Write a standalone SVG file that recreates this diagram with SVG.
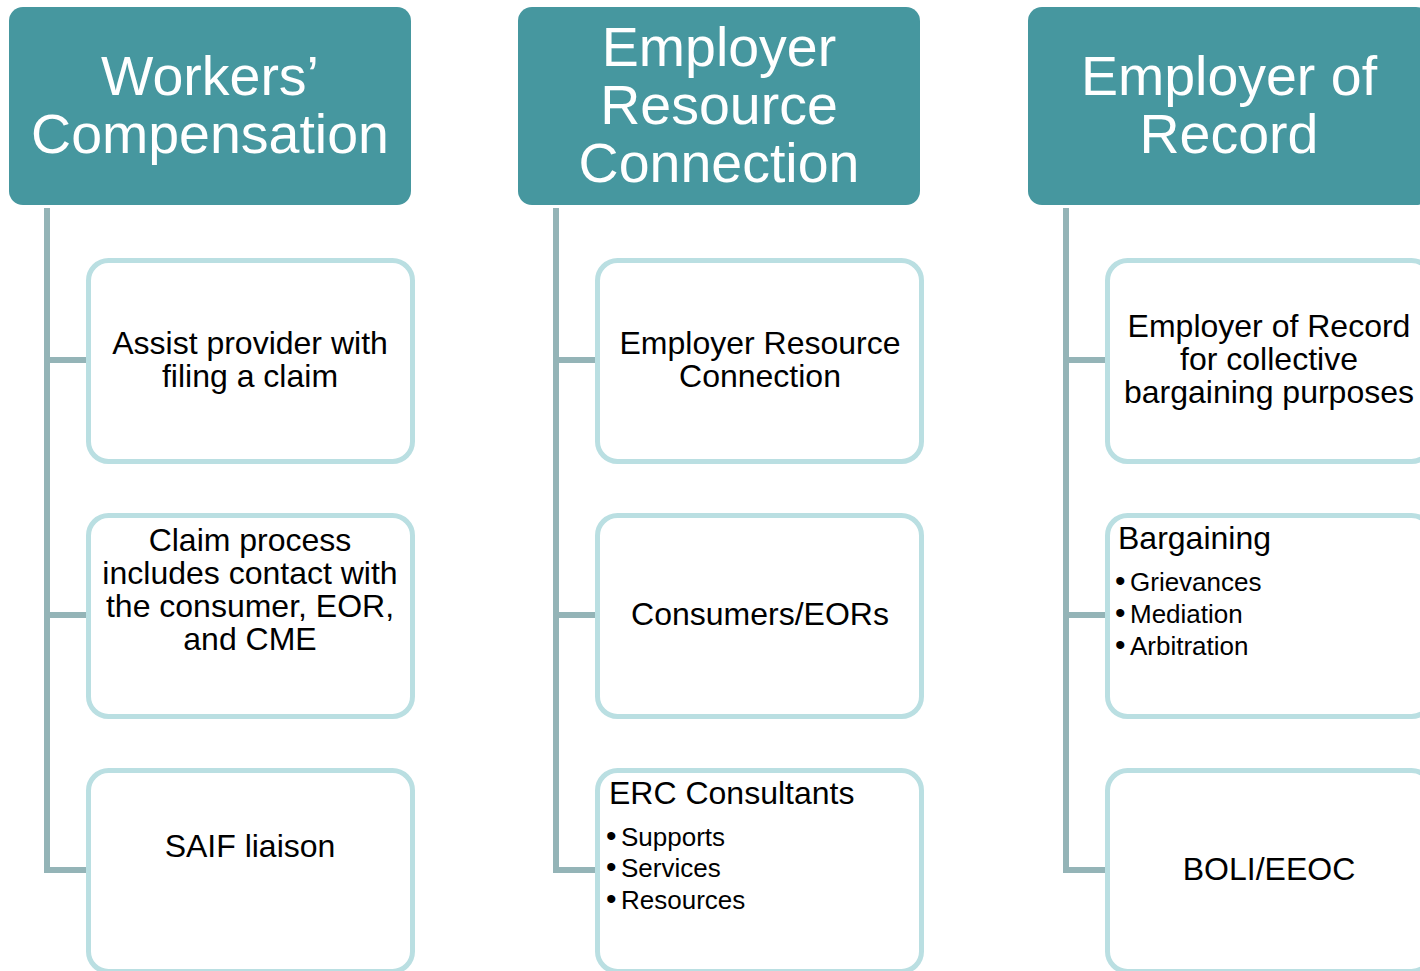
<svg xmlns="http://www.w3.org/2000/svg" width="1420" height="971" viewBox="0 0 1420 971">
<style>
.hdr{fill:#46979F;}
.hdrt{fill:#FFFFFF;font-family:"Liberation Sans",Arial,sans-serif;font-size:55.5px;text-anchor:middle;}
.box{fill:#FFFFFF;stroke:#BADFE2;stroke-width:5;}
.t{fill:#000;font-family:"Liberation Sans",Arial,sans-serif;font-size:32px;text-anchor:middle;}
.tl{fill:#000;font-family:"Liberation Sans",Arial,sans-serif;font-size:32px;}
.b{fill:#000;font-family:"Liberation Sans",Arial,sans-serif;font-size:26px;}
.d{font-size:30px;}
.conn{fill:none;stroke:#94B4B7;stroke-width:6;stroke-linejoin:miter;}
</style>
<g id="connectors">
<path class="conn" d="M47 208 V870 H88 M47 360 H88 M47 615 H88"/>
<path class="conn" d="M556 208 V870 H597 M556 360 H597 M556 615 H597"/>
<path class="conn" d="M1066 208 V870 H1107 M1066 360 H1107 M1066 615 H1107"/>
</g>
<g id="h1"><rect class="hdr" x="9" y="7" width="402" height="198" rx="14"/>
<text class="hdrt" x="210" y="95">Workers’</text><text class="hdrt" x="210" y="153">Compensation</text></g>
<g id="h2"><rect class="hdr" x="518" y="7" width="402" height="198" rx="14"/>
<text class="hdrt" x="719" y="66">Employer</text><text class="hdrt" x="719" y="124">Resource</text><text class="hdrt" x="719" y="182">Connection</text></g>
<g id="h3"><rect class="hdr" x="1028" y="7" width="402" height="198" rx="14"/>
<text class="hdrt" x="1229" y="95">Employer of</text><text class="hdrt" x="1229" y="153">Record</text></g>

<g id="c1a"><rect class="box" x="88.5" y="260.5" width="324" height="201" rx="20"/>
<text class="t" x="250" y="354">Assist provider with</text><text class="t" x="250" y="387">filing a claim</text></g>
<g id="c1b"><rect class="box" x="88.5" y="515.5" width="324" height="201" rx="20"/>
<text class="t" x="250" y="551">Claim process</text><text class="t" x="250" y="584">includes contact with</text><text class="t" x="250" y="617">the consumer, EOR,</text><text class="t" x="250" y="650">and CME</text></g>
<g id="c1c"><rect class="box" x="88.5" y="770.5" width="324" height="201" rx="20"/>
<text class="t" x="250" y="857">SAIF liaison</text></g>

<g id="c2a"><rect class="box" x="597.5" y="260.5" width="324" height="201" rx="20"/>
<text class="t" x="760" y="354">Employer Resource</text><text class="t" x="760" y="387">Connection</text></g>
<g id="c2b"><rect class="box" x="597.5" y="515.5" width="324" height="201" rx="20"/>
<text class="t" x="760" y="625">Consumers/EORs</text></g>
<g id="c2c"><rect class="box" x="597.5" y="770.5" width="324" height="201" rx="20"/>
<text class="tl" x="609" y="804">ERC Consultants</text>
<text class="b" x="606" y="846"><tspan class="d">•</tspan><tspan x="621">Supports</tspan></text>
<text class="b" x="606" y="877"><tspan class="d">•</tspan><tspan x="621">Services</tspan></text>
<text class="b" x="606" y="909"><tspan class="d">•</tspan><tspan x="621">Resources</tspan></text></g>

<g id="c3a"><rect class="box" x="1107.5" y="260.5" width="324" height="201" rx="20"/>
<text class="t" x="1269" y="337">Employer of Record</text><text class="t" x="1269" y="370">for collective</text><text class="t" x="1269" y="403">bargaining purposes</text></g>
<g id="c3b"><rect class="box" x="1107.5" y="515.5" width="324" height="201" rx="20"/>
<text class="tl" x="1118" y="549">Bargaining</text>
<text class="b" x="1115" y="591"><tspan class="d">•</tspan><tspan x="1130">Grievances</tspan></text>
<text class="b" x="1115" y="623"><tspan class="d">•</tspan><tspan x="1130">Mediation</tspan></text>
<text class="b" x="1115" y="655"><tspan class="d">•</tspan><tspan x="1130">Arbitration</tspan></text></g>
<g id="c3c"><rect class="box" x="1107.5" y="770.5" width="324" height="201" rx="20"/>
<text class="t" x="1269" y="880">BOLI/EEOC</text></g>
</svg>
